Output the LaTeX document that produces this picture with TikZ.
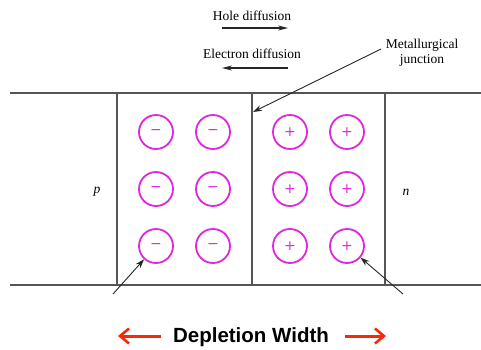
\documentclass[tikz,border=0pt]{standalone}
\usepackage{fontspec}
\setmainfont{Liberation Serif}
\newfontfamily\labelsans{Liberation Sans}
\newfontfamily\signfont{DejaVu Sans}
\usetikzlibrary{arrows.meta}
\definecolor{ionmag}{RGB}{222,40,222}
\definecolor{widthred}{RGB}{250,40,10}
\definecolor{edgegray}{RGB}{85,85,85}
\tikzset{
  bound/.style={draw=edgegray, line width=1.4pt},
  ion/.style={circle, draw=ionmag, line width=1.8pt, minimum size=34pt, inner sep=0pt,
    text=ionmag, font=\signfont\fontsize{14}{14}\selectfont},
  pointer/.style={draw=black!85, line width=0.9pt, -{Stealth[length=9pt,width=6pt]}},
  flow/.style={draw=black!85, line width=1.1pt, -{Stealth[length=10pt,width=5pt]}},
  caption/.style={font=\fontsize{13.5}{15}\selectfont, inner sep=0pt},
  widtharrow/.style={draw=widthred, line width=3pt, -{Straight Barb[length=9pt,width=15pt,line width=2.6pt]}},
}
\begin{document}
\begin{tikzpicture}[x=1pt, y=-1pt]
  \useasboundingbox (0,0) rectangle (481,349);
  \fill[white] (0,0) rectangle (481,349);

  % band edges and region boundaries
  \coordinate (tl) at (10,93);
  \coordinate (tr) at (481,93);
  \coordinate (bl) at (10,285);
  \coordinate (br) at (481,285);
  \draw[bound] (tl) -- (tr);
  \draw[bound] (bl) -- (br);
  \coordinate (edgeLtop) at (117,93);
  \coordinate (edgeLbot) at (117,285);
  \coordinate (juncTop) at (252,93);
  \coordinate (juncBot) at (252,285);
  \coordinate (edgeRtop) at (385,93);
  \coordinate (edgeRbot) at (385,285);
  \draw[bound] (edgeLtop) -- (edgeLbot);
  \draw[bound] (juncTop) -- (juncBot);
  \draw[bound] (edgeRtop) -- (edgeRbot);

  % region labels
  \node[caption, font=\fontsize{13.5}{15}\selectfont\itshape] (plabel) at (97,192) {p};
  \node[caption, font=\fontsize{13.5}{15}\selectfont\itshape] (nlabel) at (406,192) {n};

  % ionized acceptors (p side)
  \foreach \r/\y in {1/132, 2/189, 3/246} {
    \node[ion] (a\r1) at (156,\y) {−};
    \node[ion] (a\r2) at (213,\y) {−};
  }
  % ionized donors (n side)
  \foreach \r/\y in {1/132, 2/189, 3/246} {
    \node[ion] (d\r1) at (290,\y) {+};
    \node[ion] (d\r2) at (347,\y) {+};
  }

  % diffusion directions
  \node[caption] (hole) at (252,16) {Hole diffusion};
  \coordinate (h0) at (222,28);
  \coordinate (h1) at (288,28);
  \draw[flow] (h0) -- (h1);
  \node[caption] (elec) at (252,54) {Electron diffusion};
  \coordinate (e0) at (288,68);
  \coordinate (e1) at (222,68);
  \draw[flow] (e0) -- (e1);

  % junction label
  \node[caption, align=center] (junc) at (422,53) {Metallurgical\\junction};
  \coordinate (jtail) at (381,49);
  \coordinate (jhead) at (253,112);
  \draw[pointer] (jtail) -- (jhead);

  % pointers to the ions
  \coordinate (ltail) at (113,294);
  \draw[pointer] (ltail) -- (a31);
  \coordinate (rtail) at (403,294);
  \draw[pointer] (rtail) -- (d32);

  % depletion width
  \node[font=\labelsans\bfseries\fontsize{20.5}{22}\selectfont, inner sep=0pt] (dw) at (251,337) {Depletion Width};
  \coordinate (wl0) at (161,336);
  \coordinate (wl1) at (118,336);
  \coordinate (wr0) at (345,336);
  \coordinate (wr1) at (386,336);
  \draw[widtharrow] (wl0) -- (wl1);
  \draw[widtharrow] (wr0) -- (wr1);
\end{tikzpicture}
\end{document}
